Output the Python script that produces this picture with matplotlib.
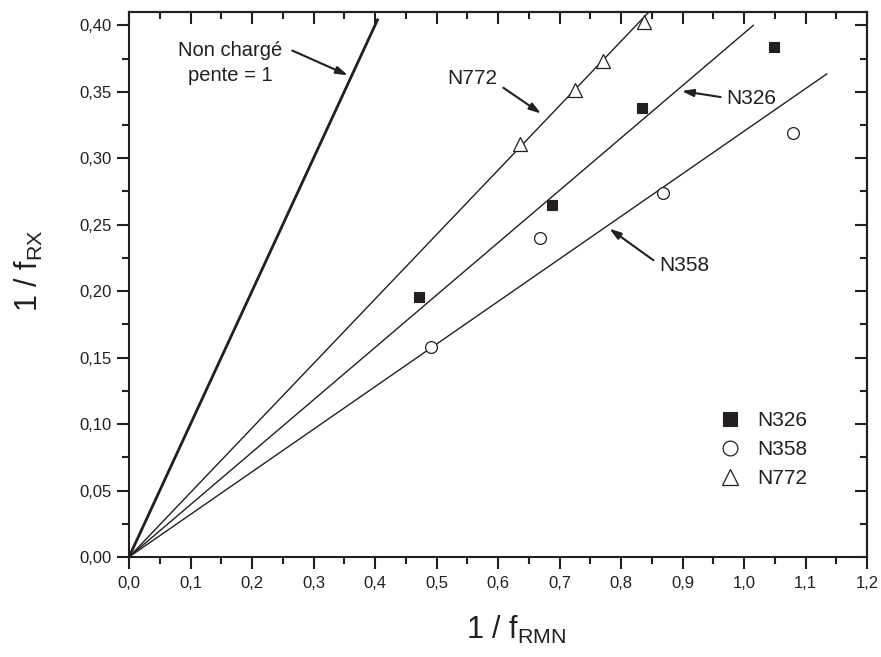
import matplotlib
matplotlib.use("Agg")
import matplotlib.pyplot as plt
from matplotlib.ticker import MultipleLocator, FixedLocator
import numpy as np

# ---- data ----
n326_x = [0.4715, 0.687, 0.834, 1.049]
n326_y = [0.1957, 0.265, 0.338, 0.3837]
n358_x = [0.491, 0.668, 0.869, 1.080]
n358_y = [0.158, 0.240, 0.274, 0.319]
n772_x = [0.636, 0.726, 0.771, 0.838]
n772_y = [0.311, 0.351, 0.373, 0.4025]

line_names = ["Non chargé", "N772", "N326", "N358"]
line_slopes = [1.0, 0.485, 0.394, 0.3203]
line_xend = [0.405, 0.845, 1.016, 1.1355]

xticks = [0.0, 0.1, 0.2, 0.3, 0.4, 0.5, 0.6, 0.7, 0.8, 0.9, 1.0, 1.1, 1.2]
xtick_labels = ["0,0", "0,1", "0,2", "0,3", "0,4", "0,5", "0,6", "0,7", "0,8", "0,9", "1,0", "1,1", "1,2"]
yticks = [0.0, 0.05, 0.10, 0.15, 0.20, 0.25, 0.30, 0.35, 0.40]
ytick_labels = ["0,00", "0,05", "0,10", "0,15", "0,20", "0,25", "0,30", "0,35", "0,40"]

INK = "#231f20"
plt.rcParams['font.family'] = ['Liberation Sans', 'DejaVu Sans']
plt.rcParams['mathtext.fontset'] = 'custom'
plt.rcParams['mathtext.rm'] = 'Liberation Sans'
plt.rcParams['mathtext.it'] = 'Liberation Sans'

fig = plt.figure(figsize=(8.81, 6.57), dpi=100)
ax = fig.add_axes([129/881, 1 - 557/657, 738/881, 545/657])

# lines
for name, s, xe in zip(line_names, line_slopes, line_xend):
    lw = 2.0 if name == "Non chargé" else 1.0
    ax.plot([0, xe], [0, s * xe], color=INK, lw=lw, solid_capstyle='butt', zorder=2)

# markers
ax.plot(n326_x, n326_y, ls='none', marker='s', ms=7.5, mfc=INK, mec=INK, mew=0.8, label='N326', zorder=3)
ax.plot(n358_x, n358_y, ls='none', marker='o', ms=8.5, mfc='white', mec=INK, mew=0.9, label='N358', zorder=3)
ax.plot(n772_x, n772_y, ls='none', marker='^', ms=9.5, mfc='white', mec=INK, mew=0.9, label='N772', zorder=3)

ax.set_xlim(0, 1.2)
ax.set_ylim(0, 0.41)

ax.xaxis.set_major_locator(FixedLocator(xticks))
ax.set_xticklabels(xtick_labels)
ax.yaxis.set_major_locator(FixedLocator(yticks))
ax.set_yticklabels(ytick_labels)
ax.xaxis.set_minor_locator(MultipleLocator(0.05))
ax.yaxis.set_minor_locator(MultipleLocator(0.025))

ax.tick_params(which='both', direction='out', width=1.5, colors=INK, labelsize=12, labelcolor=INK)
ax.tick_params(which='major', length=8.5)
ax.tick_params(which='minor', length=4.8)
ax.tick_params(axis='x', pad=5)
ax.tick_params(axis='y', pad=4)
for sp in ax.spines.values():
    sp.set_linewidth(1.5)
    sp.set_color(INK)

# top and right inward ticks
secx = ax.secondary_xaxis('top')
secx.xaxis.set_major_locator(FixedLocator(xticks))
secx.xaxis.set_minor_locator(MultipleLocator(0.05))
secx.tick_params(which='both', direction='in', width=1.5, colors=INK, labeltop=False)
secx.tick_params(which='major', length=8.5)
secx.tick_params(which='minor', length=4.8)
secx.spines['top'].set_linewidth(1.5)
secy = ax.secondary_yaxis('right')
secy.yaxis.set_major_locator(FixedLocator(yticks))
secy.yaxis.set_minor_locator(MultipleLocator(0.025))
secy.tick_params(which='both', direction='in', width=1.5, colors=INK, labelright=False)
secy.tick_params(which='major', length=8.5)
secy.tick_params(which='minor', length=4.8)
secy.spines['right'].set_linewidth(1.5)

ax.set_xlabel(r"1 / f$_{\mathrm{RMN}}$", fontsize=22, color=INK)
ax.set_ylabel(r"1 / f$_{\mathrm{RX}}$", fontsize=22, color=INK)
ax.xaxis.set_label_coords(0.524, -0.105)
ax.yaxis.set_label_coords(-0.114, 0.525)

arrow = dict(arrowstyle='-|>,head_length=0.7,head_width=0.22', color=INK, lw=1.5, shrinkA=0, shrinkB=0)
ax.annotate("", xy=(0.356, 0.3624), xytext=(0.2655, 0.381), arrowprops=arrow)
ax.text(0.164, 0.372, "Non chargé\npente = 1", fontsize=14.5, color=INK, ha='center', va='center', linespacing=1.4)
ax.annotate("", xy=(0.670, 0.3336), xytext=(0.6087, 0.353), arrowprops=arrow)
ax.text(0.5585, 0.360, "N772", fontsize=15, color=INK, ha='center', va='center')
ax.annotate("", xy=(0.8986, 0.3506), xytext=(0.962, 0.346), arrowprops=arrow)
ax.text(1.011, 0.3449, "N326", fontsize=15, color=INK, ha='center', va='center')
ax.annotate("", xy=(0.781, 0.2471), xytext=(0.8526, 0.2233), arrowprops=arrow)
ax.text(0.9026, 0.2195, "N358", fontsize=15, color=INK, ha='center', va='center')

leg = ax.legend(loc='upper left', bbox_to_anchor=((720 - 129) / 738, (557 - 411) / 545),
                frameon=False, fontsize=15, handlelength=1.0, handletextpad=0.8,
                borderpad=0, borderaxespad=0, labelspacing=0.48, markerscale=1.25,
                labelcolor=INK)

fig.savefig("out.png", dpi=100)
